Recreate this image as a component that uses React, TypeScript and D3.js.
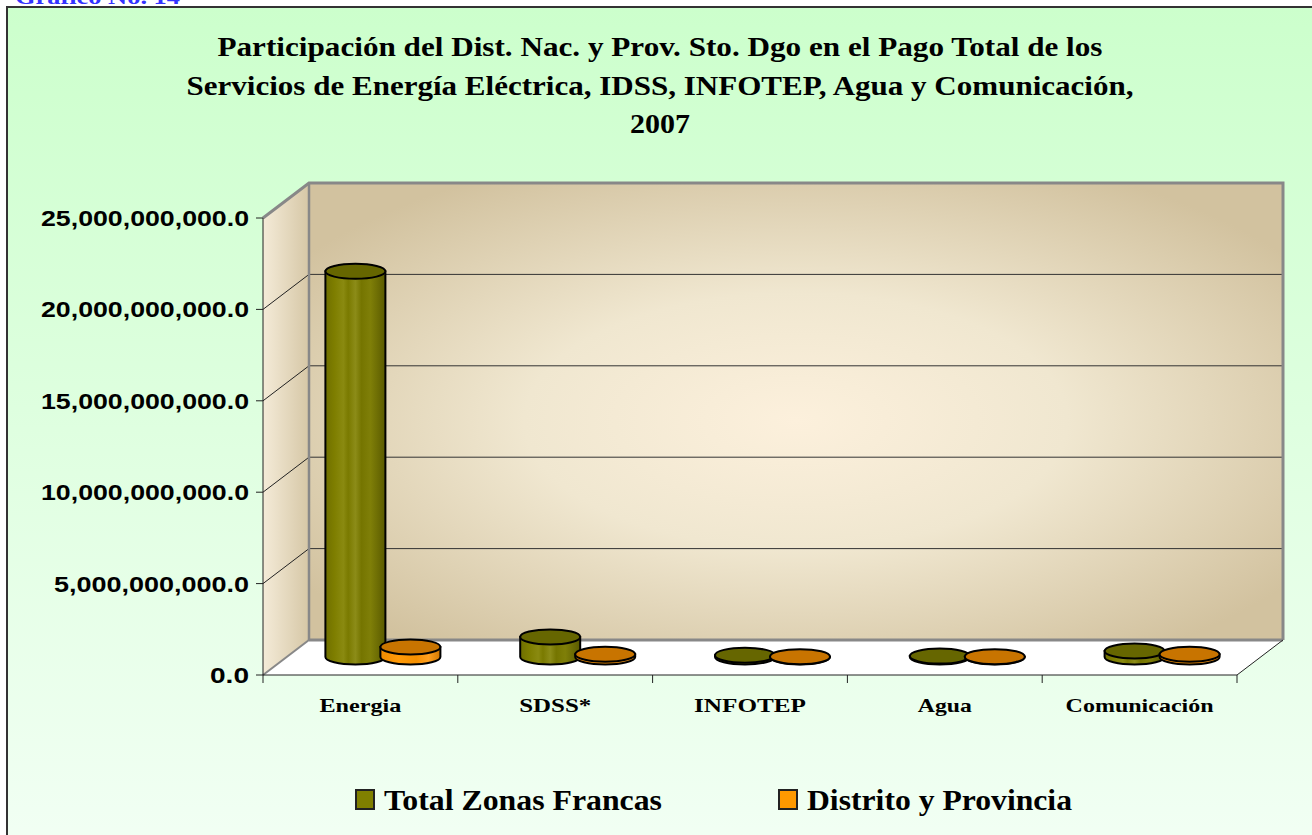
import React from "react";
import * as d3 from "d3";

const categories = ["Energia", "SDSS*", "INFOTEP", "Agua", "Comunicación"];
const seriesNames = ["Total Zonas Francas", "Distrito y Provincia"];
const totalZonasFrancas = [21.1e9, 1.1e9, 0.1e9, 0.05e9, 0.33e9];
const distritoProvincia = [0.55e9, 0.15e9, 0.02e9, 0.02e9, 0.15e9];
const yTicks = [0, 5e9, 10e9, 15e9, 20e9, 25e9];
const titleLines = [
  "Participación del Dist. Nac. y Prov. Sto. Dgo en el Pago Total de los",
  "Servicios de Energía Eléctrica, IDSS, INFOTEP, Agua y Comunicación,",
  "2007",
];

const W = 1312;
const H = 835;
const frontLeft = 263;
const frontRight = 1237;
const frontBottom = 675;
const frontTop = 218;
const DX = 46;
const DY = -35;

const SERIF = "Liberation Serif, Times New Roman, serif";
const SANS = "Liberation Sans, Arial, sans-serif";

const fmt = (v: number) => d3.format(",.1f")(v);

function Cylinder({ cx, yTop, yBase, rx, ry, top, id }: any) {
  const path = `M${cx - rx},${yTop} L${cx - rx},${yBase} A${rx},${ry} 0 0 0 ${cx + rx},${yBase} L${cx + rx},${yTop} Z`;
  return (
    <g>
      <path d={path} fill={`url(#${id})`} stroke="#000" strokeWidth={2} />
      <ellipse cx={cx} cy={yTop} rx={rx} ry={ry} fill={top} stroke="#000" strokeWidth={2} />
    </g>
  );
}

export default function App() {
  const x = d3.scaleBand<string>().domain(categories).range([frontLeft, frontRight]).padding(0);
  const yFront = d3.scaleLinear().domain([0, 25e9]).range([frontBottom, frontTop]);
  const yBack = d3.scaleLinear().domain([0, 25e9]).range([frontBottom + DY, frontTop + DY]);
  const yMid = d3.scaleLinear().domain([0, 25e9]).range([frontBottom + DY / 2 - 0.5, frontTop + DY / 2 - 0.5]);
  const bw = x.bandwidth();
  const rx = 30;
  const ry = 7.5;
  const offsets = [-28, 27];
  const series = [totalZonasFrancas, distritoProvincia];
  const sideGrad = ["gGreen", "gOrange"];
  const tops = ["#666600", "#c87400"];

  const backLeft = frontLeft + DX;
  const backRight = frontRight + DX;

  return (
    <svg width={W} height={H} style={{ position: "absolute", left: 0, top: 0 }}>
      <defs>
        <linearGradient id="bg" x1="0" y1="0" x2="0" y2="1">
          <stop offset="0" stopColor="#ccffcc" />
          <stop offset="1" stopColor="#f2fff4" />
        </linearGradient>
        <radialGradient id="wall" cx="0.5" cy="0.52" r="0.62" fx="0.5" fy="0.52">
          <stop offset="0" stopColor="#fcf0dc" />
          <stop offset="0.45" stopColor="#f0e7d0" />
          <stop offset="1" stopColor="#d2c29f" />
        </radialGradient>
        <linearGradient id="side" x1="0" y1="0" x2="1" y2="0">
          <stop offset="0" stopColor="#f4ebd8" />
          <stop offset="1" stopColor="#d6c7a6" />
        </linearGradient>
        <linearGradient id="gGreen" x1="0" y1="0" x2="1" y2="0">
          <stop offset="0" stopColor="#6f6f00" />
          <stop offset="0.15" stopColor="#7e7e00" />
          <stop offset="0.3" stopColor="#8a8a10" />
          <stop offset="0.38" stopColor="#7a7a00" />
          <stop offset="0.5" stopColor="#8c8c18" />
          <stop offset="0.6" stopColor="#757500" />
          <stop offset="0.75" stopColor="#7f7f08" />
          <stop offset="1" stopColor="#5a5a00" />
        </linearGradient>
        <linearGradient id="gOrange" x1="0" y1="0" x2="1" y2="0">
          <stop offset="0" stopColor="#f08a00" />
          <stop offset="0.3" stopColor="#ff9a08" />
          <stop offset="0.6" stopColor="#f59000" />
          <stop offset="0.8" stopColor="#ffa020" />
          <stop offset="1" stopColor="#d27800" />
        </linearGradient>
      </defs>

      <rect x={7} y={7} width={W + 10} height={H + 10} fill="url(#bg)" stroke="#333" strokeWidth={2} />
      <text x={15} y={4} fontFamily={SERIF} fontWeight="bold" fontSize={20} fill="#3333ff" textLength={165} lengthAdjust="spacingAndGlyphs">
        Gráfico No. 14
      </text>

      {titleLines.map((t, i) => (
        <text
          key={i}
          x={W / 2 + 4}
          y={56 + i * 38.5}
          textAnchor="middle"
          fontFamily={SERIF}
          fontWeight="bold"
          fontSize={28}
          textLength={[885, 947, 60][i]}
          lengthAdjust="spacingAndGlyphs"
        >
          {t}
        </text>
      ))}

      <polygon
        points={`${frontLeft},${frontTop} ${backLeft},${frontTop + DY} ${backLeft},${frontBottom + DY} ${frontLeft},${frontBottom}`}
        fill="url(#side)"
      />
      <rect x={backLeft} y={frontTop + DY} width={backRight - backLeft} height={frontBottom - frontTop} fill="url(#wall)" />
      <polygon
        points={`${frontLeft},${frontBottom} ${backLeft},${frontBottom + DY} ${backRight},${frontBottom + DY} ${frontRight},${frontBottom}`}
        fill="#ffffff"
      />

      {yTicks.slice(1, -1).map((t) => (
        <g key={t}>
          <line x1={backLeft} x2={backRight} y1={yBack(t)} y2={yBack(t)} stroke="#333" strokeWidth={1} />
          <line x1={frontLeft} x2={backLeft} y1={yFront(t)} y2={yBack(t)} stroke="#222" strokeWidth={1} />
        </g>
      ))}

      <polyline
        points={`${frontLeft},${frontTop} ${backLeft},${frontTop + DY} ${backRight},${frontTop + DY} ${backRight},${frontBottom + DY}`}
        fill="none"
        stroke="#888"
        strokeWidth={3}
      />
      <line x1={backLeft} x2={backLeft} y1={frontTop + DY} y2={frontBottom + DY} stroke="#888" strokeWidth={2.5} />
      <line x1={backLeft} x2={backRight} y1={frontBottom + DY} y2={frontBottom + DY} stroke="#888" strokeWidth={3} />
      <line x1={frontLeft} x2={backLeft} y1={frontBottom} y2={frontBottom + DY} stroke="#888" strokeWidth={2} />

      <line x1={frontLeft} x2={frontRight} y1={frontBottom} y2={frontBottom} stroke="#222" strokeWidth={1} />
      <line x1={frontRight} x2={backRight} y1={frontBottom} y2={frontBottom + DY} stroke="#222" strokeWidth={1} />
      <line x1={frontLeft} x2={frontLeft} y1={frontTop} y2={frontBottom} stroke="#222" strokeWidth={1} />
      {yTicks.map((t) => (
        <g key={t}>
          <line x1={frontLeft - 7} x2={frontLeft} y1={yFront(t)} y2={yFront(t)} stroke="#222" strokeWidth={1} />
          <text
            x={249}
            y={yFront(t) + 8}
            textAnchor="end"
            fontFamily={SANS}
            fontWeight="bold"
            fontSize={22.5}
            textLength={fmt(t).length * 13}
            lengthAdjust="spacingAndGlyphs"
          >
            {fmt(t)}
          </text>
        </g>
      ))}
      {[...categories.map((c) => x(c) as number), frontRight].map((v, i) => (
        <line key={i} x1={v} x2={v} y1={frontBottom} y2={frontBottom + 8} stroke="#222" strokeWidth={1} />
      ))}
      {categories.map((c, i) => (
        <text
          key={c}
          x={(x(c) as number) + bw / 2}
          y={712}
          textAnchor="middle"
          fontFamily={SERIF}
          fontWeight="bold"
          fontSize={19}
          textLength={[82, 72, 112, 54, 148][i]}
          lengthAdjust="spacingAndGlyphs"
        >
          {c}
        </text>
      ))}

      {categories.map((c, i) => {
        const center = (x(c) as number) + bw / 2 + DX / 2;
        return (
          <g key={c}>
            {series.map((s, k) => (
              <Cylinder
                key={k}
                id={sideGrad[k]}
                cx={center + offsets[k]}
                yTop={yMid(s[i])}
                yBase={yMid(0)}
                rx={rx}
                ry={ry}
                top={tops[k]}
              />
            ))}
          </g>
        );
      })}

      {seriesNames.map((n, k) => {
        const lx = [356, 779][k];
        return (
          <g key={n}>
            <rect x={lx} y={790} width={18} height={19} fill={["#808000", "#ff9900"][k]} stroke="#222" strokeWidth={2} />
            <text
              x={lx + 28}
              y={810}
              fontFamily={SERIF}
              fontWeight="bold"
              fontSize={29}
              textLength={[278, 265][k]}
              lengthAdjust="spacingAndGlyphs"
            >
              {n}
            </text>
          </g>
        );
      })}
    </svg>
  );
}
